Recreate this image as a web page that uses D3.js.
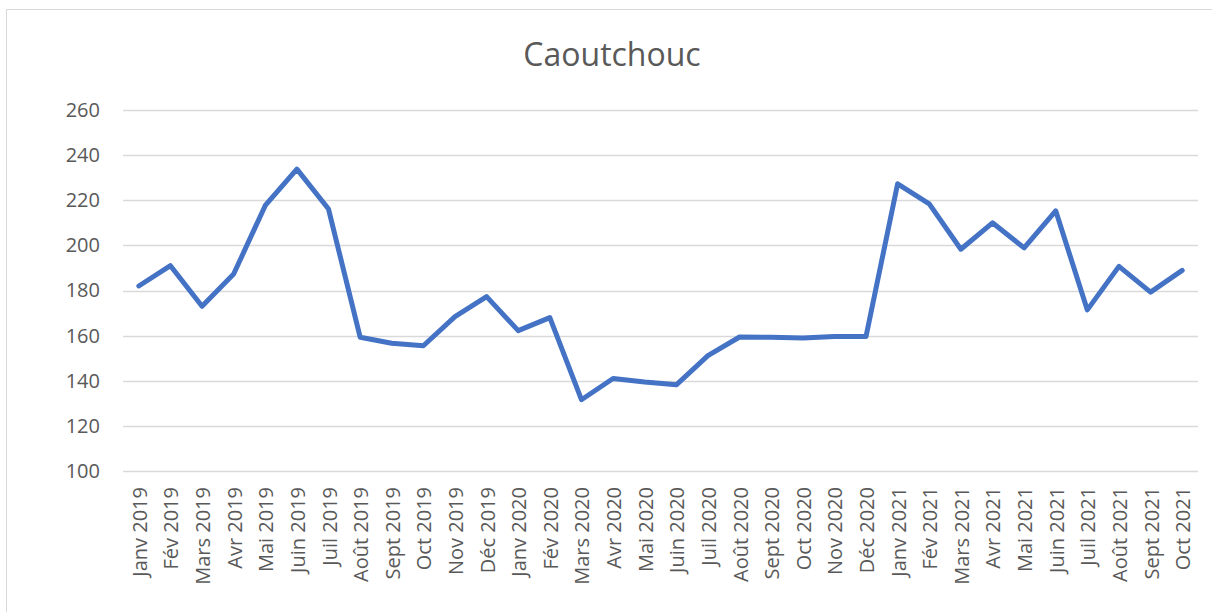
<!DOCTYPE html>
<html>
<head>
<meta charset="utf-8">
<script src="https://cdn.jsdelivr.net/npm/d3@7"></script>
<style>
  body { margin: 0; background: #fff; }
  text { font-family: "Open Sans", sans-serif; fill: #595959; }
</style>
</head>
<body>
<div id="chart"></div>
<script>
// months along the x axis
var months = ["Janv 2019","Fév 2019","Mars 2019","Avr 2019","Mai 2019","Juin 2019","Juil 2019",
  "Août 2019","Sept 2019","Oct 2019","Nov 2019","Déc 2019",
  "Janv 2020","Fév 2020","Mars 2020","Avr 2020","Mai 2020","Juin 2020","Juil 2020",
  "Août 2020","Sept 2020","Oct 2020","Nov 2020","Déc 2020",
  "Janv 2021","Fév 2021","Mars 2021","Avr 2021","Mai 2021","Juin 2021","Juil 2021",
  "Août 2021","Sept 2021","Oct 2021"];

// price index values
var values = [182, 191, 173, 187.3, 217.7, 233.8, 216.1,
  159.3, 156.6, 155.5, 168.4, 177.3,
  162.2, 168, 131.6, 141, 139.4, 138.2, 151.1,
  159.4, 159.3, 158.9, 159.6, 159.6,
  227.3, 218.4, 198.3, 210, 198.9, 215.3, 171.4,
  190.7, 179.3, 188.9];

var yTicks = [100, 120, 140, 160, 180, 200, 220, 240, 260];

var W = 1212, H = 612;
var margin = {top: 110, left: 123};
var width = 1198 - margin.left,
    height = 471 - margin.top;

var svg = d3.select("#chart")
  .append("svg")
    .attr("width", W)
    .attr("height", H);

// outer frame
svg.append("rect")
  .attr("x", 6.5).attr("y", 9.5)
  .attr("width", W + 10).attr("height", H + 10)
  .attr("fill", "none")
  .attr("stroke", "#d9d9d9")
  .attr("stroke-width", 1);

svg.append("text")
  .attr("x", 612)
  .attr("y", 66)
  .attr("text-anchor", "middle")
  .attr("style", "font-size: 32px")
  .text("Caoutchouc");

var g = svg.append("g")
  .attr("transform", "translate(" + margin.left + "," + margin.top + ")");

var x = d3.scaleBand()
  .domain(months)
  .range([0, width]);

var y = d3.scaleLinear()
  .domain([100, 260])
  .range([height, 0]);

// gridlines
g.append("g")
  .selectAll("line")
  .data(yTicks)
  .enter()
  .append("line")
    .attr("x1", 0)
    .attr("x2", width)
    .attr("y1", function(d) { return Math.round(y(d)) + 0.5; })
    .attr("y2", function(d) { return Math.round(y(d)) + 0.5; })
    .attr("stroke", "#d9d9d9")
    .attr("stroke-width", 1.5);

// y axis labels
var yAxis = g.append("g")
  .call(d3.axisLeft(y).tickValues(yTicks).tickSize(0).tickPadding(23));
yAxis.select(".domain").remove();
yAxis.selectAll("text")
  .attr("style", "font-size: 20px")
  .attr("fill", "#595959");

// x axis labels
var xAxis = g.append("g")
  .attr("transform", "translate(0," + height + ")")
  .call(d3.axisBottom(x).tickSize(0));
xAxis.select(".domain").remove();
xAxis.selectAll("text")
  .attr("style", "font-size: 20px")
  .attr("fill", "#595959")
  .attr("text-anchor", "end")
  .attr("transform", "rotate(-90)")
  .attr("x", -16)
  .attr("y", 1)
  .attr("dy", "0.35em");

var line = d3.line()
  .x(function(d, i) { return x(months[i]) + x.bandwidth() / 2; })
  .y(function(d) { return y(d); });

g.append("path")
  .datum(values)
  .attr("fill", "none")
  .attr("stroke", "#4472C4")
  .attr("stroke-width", 5)
  .attr("stroke-linejoin", "round")
  .attr("stroke-linecap", "round")
  .attr("d", line);
</script>
</body>
</html>
